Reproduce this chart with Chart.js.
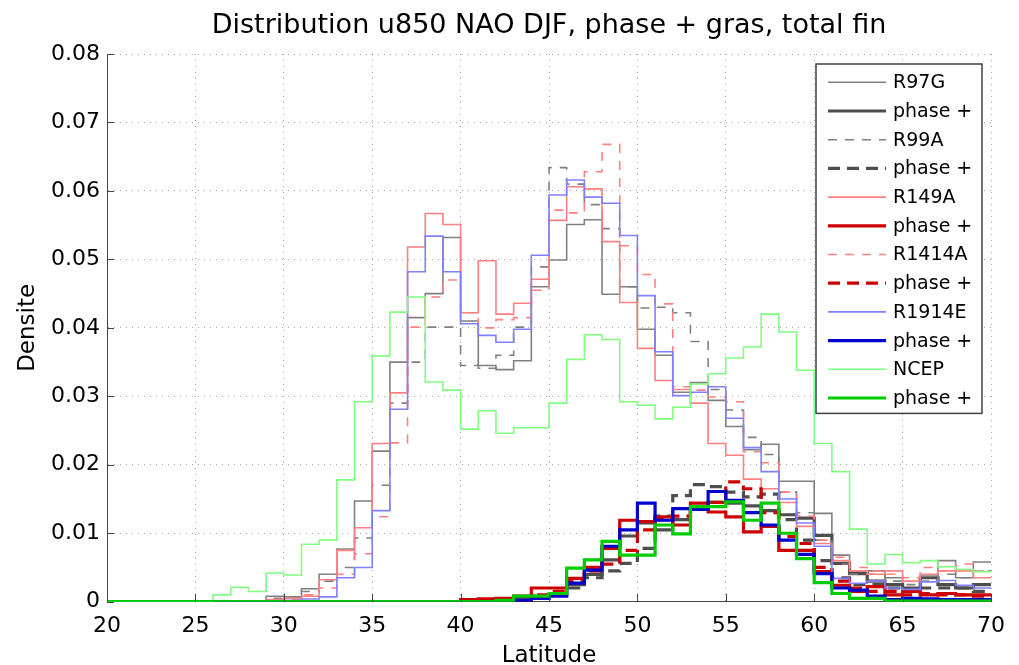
<!DOCTYPE html>
<html>
<head>
<meta charset="utf-8">
<script src="https://cdn.jsdelivr.net/npm/chart.js@4.4.1/dist/chart.umd.min.js"></script>
<style>
  html, body { margin: 0; padding: 0; background: #fff; }
  #wrap { width: 1019px; height: 665px; position: relative; }
</style>
</head>
<body>
<div id="wrap"><canvas id="distChart"></canvas></div>
<script>
// ── Data: density per 1° latitude bin, bins 20-21 ... 69-70 ────────────────────
const TITLE = 'Distribution u850 NAO DJF, phase + gras, total fin';
const X_LABEL = 'Latitude';
const Y_LABEL = 'Densite';
const X_MIN = 20, X_MAX = 70, X_STEP = 5;
const Y_MIN = 0, Y_MAX = 0.08, Y_STEP = 0.01;

const LABELS = ['R97G', 'phase +', 'R99A', 'phase +', 'R149A', 'phase +',
                'R1414A', 'phase +', 'R1914E', 'phase +', 'NCEP', 'phase +'];

const r97g = [0, 0, 0, 0, 0, 0, 0, 0, 0,
  0.0008, 0.0007, 0.0019, 0.004, 0.0077, 0.0147, 0.022, 0.035, 0.0415, 0.045, 0.0532,
  0.041, 0.0345, 0.0339, 0.0352, 0.046, 0.0499, 0.0551, 0.0558, 0.0449, 0.046,
  0.0398, 0.036, 0.0306, 0.032, 0.0294, 0.0256, 0.0222, 0.023, 0.0176, 0.0176,
  0.0129, 0.0068, 0.0044, 0.0045, 0.0035, 0.002, 0.0039, 0.006, 0.0035, 0.0058];
const r97gPhase = [0, 0, 0, 0, 0, 0, 0, 0, 0, 0, 0, 0, 0, 0, 0, 0, 0, 0, 0, 0,
  0.0002, 0.0003, 0.0004, 0.0005, 0.0008, 0.001, 0.0025, 0.004, 0.0061, 0.0096,
  0.0115, 0.0105, 0.012, 0.0135, 0.0145, 0.0144, 0.014, 0.0133, 0.0127, 0.0122,
  0.0097, 0.0056, 0.0041, 0.003, 0.0025, 0.002, 0.0035, 0.0025, 0.002, 0.0025];

const r99a = [0, 0, 0, 0, 0, 0, 0, 0, 0,
  0.0005, 0.0005, 0.0015, 0.003, 0.005, 0.0093, 0.017, 0.029, 0.035, 0.0401, 0.0401,
  0.0345, 0.0341, 0.036, 0.0401, 0.0489, 0.0634, 0.061, 0.058, 0.0545, 0.046,
  0.0429, 0.043, 0.0422, 0.038, 0.031, 0.028, 0.024, 0.0215, 0.016, 0.013,
  0.009, 0.0055, 0.004, 0.004, 0.003, 0.0025, 0.003, 0.004, 0.0035, 0.0045];
const r99aPhase = [0, 0, 0, 0, 0, 0, 0, 0, 0, 0, 0, 0, 0, 0, 0, 0, 0, 0, 0, 0, 0, 0, 0, 0,
  0.0005, 0.001, 0.002, 0.0035, 0.0045, 0.0056,
  0.0078, 0.0125, 0.0155, 0.0171, 0.0168, 0.016, 0.0153, 0.0157, 0.012, 0.009,
  0.006, 0.0035, 0.0025, 0.0025, 0.002, 0.0015, 0.002, 0.002, 0.002, 0.0015];

const r149a = [0, 0, 0, 0, 0, 0, 0, 0, 0,
  0.0003, 0.0005, 0.0008, 0.0032, 0.0075, 0.0108, 0.0231, 0.0305, 0.0518, 0.0567, 0.0551,
  0.0422, 0.0498, 0.042, 0.0436, 0.0471, 0.0557, 0.0606, 0.0603, 0.0526, 0.0437,
  0.037, 0.0323, 0.031, 0.029, 0.0231, 0.0214, 0.0179, 0.0165, 0.0145, 0.011,
  0.0085, 0.006, 0.0045, 0.004, 0.0045, 0.003, 0.004, 0.0045, 0.0045, 0.0035];
const r149aPhase = [0, 0, 0, 0, 0, 0, 0, 0, 0, 0, 0, 0, 0, 0, 0, 0, 0, 0, 0, 0,
  0.0003, 0.0004, 0.0005, 0.0008, 0.002, 0.002, 0.0034, 0.005, 0.0078, 0.0119,
  0.0117, 0.0124, 0.0112, 0.0144, 0.0131, 0.0124, 0.0102, 0.011, 0.0075, 0.0075,
  0.0044, 0.0024, 0.0015, 0.0022, 0.001, 0.0015, 0.001, 0.0012, 0.001, 0.001];

const r1414a = [0, 0, 0, 0, 0, 0, 0, 0, 0, 0,
  0.0003, 0.001, 0.002, 0.004, 0.007, 0.0124, 0.0232, 0.0401, 0.0445, 0.047,
  0.0422, 0.04, 0.0412, 0.0415, 0.0455, 0.0572, 0.0568, 0.0628, 0.0668, 0.052,
  0.0478, 0.0435, 0.0314, 0.0309, 0.0299, 0.0292, 0.0219, 0.0203, 0.016, 0.0125,
  0.009, 0.0065, 0.005, 0.0045, 0.004, 0.0035, 0.005, 0.0045, 0.0055, 0.0045];
const r1414aPhase = [0, 0, 0, 0, 0, 0, 0, 0, 0, 0, 0, 0, 0, 0, 0, 0, 0, 0, 0, 0, 0, 0, 0, 0,
  0.001, 0.0015, 0.003, 0.0045, 0.0055, 0.0075,
  0.0105, 0.012, 0.0125, 0.0135, 0.0145, 0.0175, 0.0165, 0.013, 0.0095, 0.0085,
  0.005, 0.003, 0.002, 0.0015, 0.0015, 0.001, 0.0012, 0.001, 0.001, 0.0008];

const r1914e = [0, 0, 0, 0, 0, 0, 0, 0, 0, 0,
  0.0002, 0.0004, 0.0007, 0.0035, 0.005, 0.0133, 0.0281, 0.0482, 0.0534, 0.0482,
  0.0406, 0.0389, 0.0379, 0.0398, 0.0506, 0.0594, 0.0616, 0.0591, 0.0582, 0.0535,
  0.0447, 0.0365, 0.0301, 0.0306, 0.0314, 0.0268, 0.0225, 0.019, 0.015, 0.0115,
  0.0081, 0.0034, 0.0027, 0.003, 0.002, 0.0018, 0.0029, 0.0031, 0.0024, 0.002];
const r1914ePhase = [0, 0, 0, 0, 0, 0, 0, 0, 0, 0, 0, 0, 0, 0, 0, 0, 0, 0, 0, 0, 0, 0, 0,
  0.0002, 0.0005, 0.0008, 0.0027, 0.0046, 0.0081, 0.0105,
  0.0144, 0.0119, 0.0136, 0.0135, 0.0161, 0.0148, 0.013, 0.0112, 0.009, 0.0069,
  0.0041, 0.002, 0.0017, 0.0008, 0.0003, 0.0005, 0.0004, 0.0003, 0.0003, 0.0003];

const ncep = [0, 0, 0, 0, 0, 0,
  0.001, 0.0021, 0.0015, 0.0042,
  0.0039, 0.0084, 0.009, 0.0178, 0.0292, 0.0359, 0.0423, 0.0445, 0.0321, 0.0309,
  0.0252, 0.0279, 0.0246, 0.0254, 0.0254, 0.029, 0.0354, 0.039, 0.0383, 0.0292,
  0.0287, 0.0267, 0.0284, 0.0318, 0.0333, 0.0356, 0.0372, 0.042, 0.0394, 0.0338,
  0.0231, 0.019, 0.0106, 0.0055, 0.0069, 0.0057, 0.006, 0.0051, 0.0047, 0.0044];
const ncepPhase = [0, 0, 0, 0, 0, 0, 0, 0, 0, 0, 0, 0, 0, 0, 0, 0, 0, 0, 0, 0, 0, 0,
  0.0002, 0.0008, 0.0008, 0.0012, 0.0049, 0.0061, 0.0088, 0.0068,
  0.0068, 0.0112, 0.0099, 0.0139, 0.0139, 0.0146, 0.0119, 0.0144, 0.01, 0.0063,
  0.0028, 0.0012, 0.0005, 0.0005, 0.0001, 0.0001, 0.0001, 0.0001, 0.0001, 0.0001];

const SERIES = [r97g, r97gPhase, r99a, r99aPhase, r149a, r149aPhase,
                r1414a, r1414aPhase, r1914e, r1914ePhase, ncep, ncepPhase];

// ── Styles (matlab-ish: thin = run, thick = phase +) ──────────────────────────
const THIN = 1.6, THICK = 3.2;
const DASH_THIN = [9, 8], DASH_THICK = [12, 7];
const STYLES = [
  { color: '#808080', width: THIN,  dash: [] },
  { color: '#4d4d4d', width: THICK, dash: [] },
  { color: '#808080', width: THIN,  dash: DASH_THIN },
  { color: '#4d4d4d', width: THICK, dash: DASH_THICK },
  { color: '#ff8080', width: THIN,  dash: [] },
  { color: '#cc0000', width: THICK, dash: [] },
  { color: '#ff8080', width: THIN,  dash: DASH_THIN },
  { color: '#cc0000', width: THICK, dash: DASH_THICK },
  { color: '#8080ff', width: THIN,  dash: [] },
  { color: '#0000cc', width: THICK, dash: [] },
  { color: '#80ff80', width: THIN,  dash: [] },
  { color: '#00cc00', width: THICK, dash: [] },
];

const FONT = '"DejaVu Sans", sans-serif';
Chart.defaults.font.family = FONT;
Chart.defaults.color = '#000';

// histogram bins -> step points (left edge of each bin + closing edge at X_MAX)
function toSteps(values) {
  const pts = values.map((v, i) => ({ x: X_MIN + i, y: v }));
  pts.push({ x: X_MAX, y: values[values.length - 1] });
  return pts;
}

const datasets = SERIES.map((vals, i) => ({
  label: LABELS[i],
  data: toSteps(vals),
  borderColor: STYLES[i].color,
  borderWidth: STYLES[i].width,
  borderDash: STYLES[i].dash,
  borderCapStyle: 'butt',
  borderJoinStyle: 'miter',
  stepped: 'before',
  pointRadius: 0,
  fill: false,
  order: SERIES.length - i   // later series on top, like hold on in matlab
}));

// ── inward ticks + boxed legend in the upper right ───────────────────────────
const matlabDecor = {
  id: 'matlabDecor',
  afterDraw(chart) {
    const { ctx, chartArea: a, scales: { x, y } } = chart;
    ctx.save();
    ctx.strokeStyle = '#444';
    ctx.lineWidth = 1;
    ctx.setLineDash([]);
    ctx.beginPath();
    x.ticks.forEach(t => {
      const px = Math.round(x.getPixelForValue(t.value)) + 0.5;
      ctx.moveTo(px, a.bottom);
      ctx.lineTo(px, a.bottom - 8);
    });
    y.ticks.forEach(t => {
      const py = Math.round(y.getPixelForValue(t.value)) + 0.5;
      ctx.moveTo(a.left, py);
      ctx.lineTo(a.left + 7, py);
    });
    ctx.stroke();

    // legend
    const boxR = a.right - 9, boxL = boxR - 166;
    const boxT = a.top + 10, rowH = 28.7;
    const boxB = boxT + rowH * LABELS.length + 5;
    ctx.fillStyle = '#fff';
    ctx.fillRect(boxL, boxT, boxR - boxL, boxB - boxT);
    ctx.strokeStyle = '#404040';
    ctx.lineWidth = 1.5;
    ctx.strokeRect(boxL, boxT, boxR - boxL, boxB - boxT);

    ctx.font = '19px ' + FONT;
    ctx.textBaseline = 'middle';
    ctx.textAlign = 'left';
    LABELS.forEach((lab, i) => {
      const cy = boxT + 18.3 + i * rowH;
      const st = STYLES[i];
      ctx.strokeStyle = st.color;
      ctx.lineWidth = st.width;
      ctx.setLineDash(st.dash);
      ctx.lineCap = 'butt';
      ctx.beginPath();
      ctx.moveTo(boxL + 12, cy);
      ctx.lineTo(boxL + 70, cy);
      ctx.stroke();
      ctx.setLineDash([]);
      ctx.fillStyle = '#000';
      ctx.fillText(lab, boxL + 77, cy + 1);
    });
    ctx.restore();
  }
};

const ctx = document.getElementById('distChart').getContext('2d');
const distChart = new Chart(ctx, {
  type: 'line',
  data: { datasets },
  plugins: [matlabDecor],
  options: {
    responsive: true,
    maintainAspectRatio: false,
    animation: false,
    layout: { padding: { left: 0, right: 28, top: 0, bottom: 0 } },
    elements: { line: { tension: 0 } },
    scales: {
      x: {
        type: 'linear',
        min: X_MIN, max: X_MAX,
        afterFit: s => { s.height = 63.3; },
        ticks: { stepSize: X_STEP, maxRotation: 0, padding: 11, font: { size: 22 }, color: '#000' },
        grid: { color: 'rgba(0,0,0,0.35)', lineWidth: 1, drawTicks: false },
        border: { display: true, color: '#444', width: 1, dash: [1, 5] },
        title: { display: true, text: X_LABEL, font: { size: 23, lineHeight: 0.8 }, padding: { top: 0, bottom: 0 }, color: '#000' }
      },
      y: {
        min: Y_MIN, max: Y_MAX,
        afterFit: s => { s.width = 107; },
        ticks: {
          stepSize: Y_STEP, padding: 7, font: { size: 22 }, color: '#000',
          callback: v => (Math.abs(v) < 1e-9 ? '0' : v.toFixed(2))
        },
        grid: { color: 'rgba(0,0,0,0.35)', lineWidth: 1, drawTicks: false },
        border: { display: true, color: '#444', width: 1, dash: [1, 5] },
        title: { display: true, text: Y_LABEL, font: { size: 23 }, padding: { top: 14.5, bottom: 0 }, color: '#000' }
      }
    },
    plugins: {
      legend: { display: false },
      tooltip: { enabled: false },
      title: {
        display: true,
        text: TITLE,
        fullSize: false,
        color: '#000',
        font: { size: 27, weight: 'normal' },
        padding: { top: 10, bottom: 11.6 }
      }
    }
  }
});
</script>
</body>
</html>
